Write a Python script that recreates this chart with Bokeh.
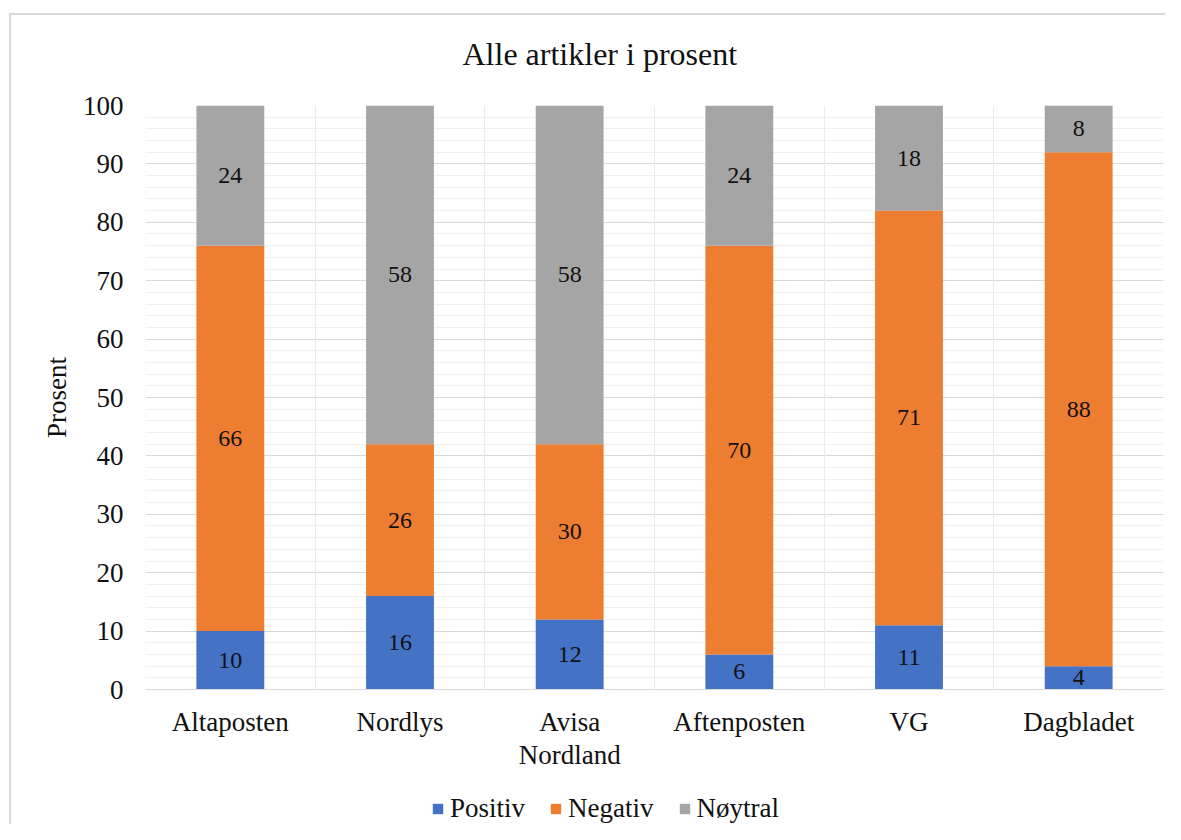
from bokeh.plotting import figure
from bokeh.layouts import column
from bokeh.models import (ColumnDataSource, LabelSet, Legend, LegendItem, FixedTicker,
                          SingleIntervalTicker, Range1d, Grid, Title)
from bokeh.embed import file_html
from bokeh.resources import INLINE

categories = ["Altaposten", "Nordlys", "Avisa\nNordland", "Aftenposten", "VG", "Dagbladet"]
positiv = [10, 16, 12, 6, 11, 4]
negativ = [66, 26, 30, 70, 71, 88]
noytral = [24, 58, 58, 24, 18, 8]
series_names = ["Positiv", "Negativ", "Nøytral"]
colors = ["#4472C4", "#ED7D31", "#A5A5A5"]

FONT = "Liberation Serif"
TXT = "#111111"
W = 1165

n = len(categories)
xs = [i + 0.5 for i in range(n)]
b1 = [0] * n
t1 = positiv
b2 = t1
t2 = [a + b for a, b in zip(t1, negativ)]
b3 = t2
t3 = [a + b for a, b in zip(t2, noytral)]

src = ColumnDataSource(dict(
    x=xs, b1=b1, t1=t1, b2=b2, t2=t2, b3=b3, t3=t3,
    m1=[(a + b) / 2 for a, b in zip(b1, t1)],
    m2=[(a + b) / 2 for a, b in zip(b2, t2)],
    m3=[(a + b) / 2 for a, b in zip(b3, t3)],
    l1=[str(v) for v in positiv],
    l2=[str(v) for v in negativ],
    l3=[str(v) for v in noytral],
))
stack_cols = [("b1", "t1"), ("b2", "t2"), ("b3", "t3")]

p = figure(width=W, height=780, output_backend="svg", toolbar_location=None,
           x_range=Range1d(0, n), y_range=Range1d(0, 100),
           min_border_left=145, min_border_right=2, min_border_top=105, min_border_bottom=91)
p.title = None
p.add_layout(Title(text="Alle artikler i prosent", align="left", offset=317,
                   text_font=FONT, text_font_size="32px", text_font_style="normal",
                   text_color=TXT, standoff=67), "above")

for (b, t), c in zip(stack_cols, colors):
    p.vbar(x="x", bottom=b, top=t, width=0.4, source=src, color=c, line_color=None)

for m, l in (("m1", "l1"), ("m2", "l2"), ("m3", "l3")):
    p.add_layout(LabelSet(x="x", y=m, text=l, source=src, text_align="center",
                          text_baseline="middle", text_font=FONT, text_font_size="24px",
                          text_color=TXT))

# axes
p.xaxis.ticker = FixedTicker(ticks=xs)
p.xaxis.major_label_overrides = {x: c for x, c in zip(xs, categories)}
p.yaxis.ticker = SingleIntervalTicker(interval=10, num_minor_ticks=5)
for ax in (p.xaxis[0], p.yaxis[0]):
    ax.major_tick_line_color = None
    ax.minor_tick_line_color = None
    ax.major_label_text_font = FONT
    ax.major_label_text_font_size = "27px"
    ax.major_label_text_color = TXT
p.xaxis.axis_line_color = "#d9d9d9"
p.xaxis.major_label_standoff = 11
p.xaxis.major_label_text_line_height = 1.1
p.yaxis.axis_line_color = None
p.yaxis.major_label_standoff = 16
p.yaxis.axis_label = "Prosent"
p.yaxis.axis_label_text_font = FONT
p.yaxis.axis_label_text_font_size = "27px"
p.yaxis.axis_label_text_font_style = "normal"
p.yaxis.axis_label_text_color = TXT
p.yaxis.axis_label_standoff = 8

# grids
p.xgrid.visible = False
p.ygrid.grid_line_color = "#d9d9d9"
p.ygrid.minor_grid_line_color = "#f0f0f0"
p.add_layout(Grid(dimension=0, ticker=FixedTicker(ticks=list(range(n + 1))),
                  grid_line_color="#ebebeb"))
p.outline_line_color = None
p.border_fill_alpha = 0

# legend strip below the chart (same series drawn out of view, only their legend shows)
lp = figure(width=W, height=44, output_backend="svg", toolbar_location=None,
            x_range=Range1d(0, n), y_range=Range1d(500, 501), min_border=0,
            x_axis_location=None, y_axis_location=None)
lp.grid.visible = False
lp.outline_line_color = None
lp.border_fill_alpha = 0
lp.background_fill_alpha = 0
rs = [lp.vbar(x="x", bottom=b, top=t, width=0.4, source=src, color=c, line_color=None)
      for (b, t), c in zip(stack_cols, colors)]
legend = Legend(items=[LegendItem(label=s, renderers=[r]) for s, r in zip(series_names, rs)],
                orientation="horizontal", location=(286, 0),
                label_text_font=FONT, label_text_font_size="27px", label_text_color=TXT,
                glyph_width=13, glyph_height=13, label_standoff=6, spacing=24,
                padding=0, margin=0, border_line_color=None, background_fill_alpha=0)
lp.add_layout(legend, "center")

layout = column(p, lp, spacing=0)
# outer chart border (top and left edges visible in the reference)
layout.styles = {
    "background": "linear-gradient(#d9d9d9,#d9d9d9) 9px 13px / 2px 100% no-repeat, "
                  "linear-gradient(#d9d9d9,#d9d9d9) 9px 13px / 100% 2px no-repeat, white",
}

open("out.html", "w").write(file_html(layout, INLINE))
